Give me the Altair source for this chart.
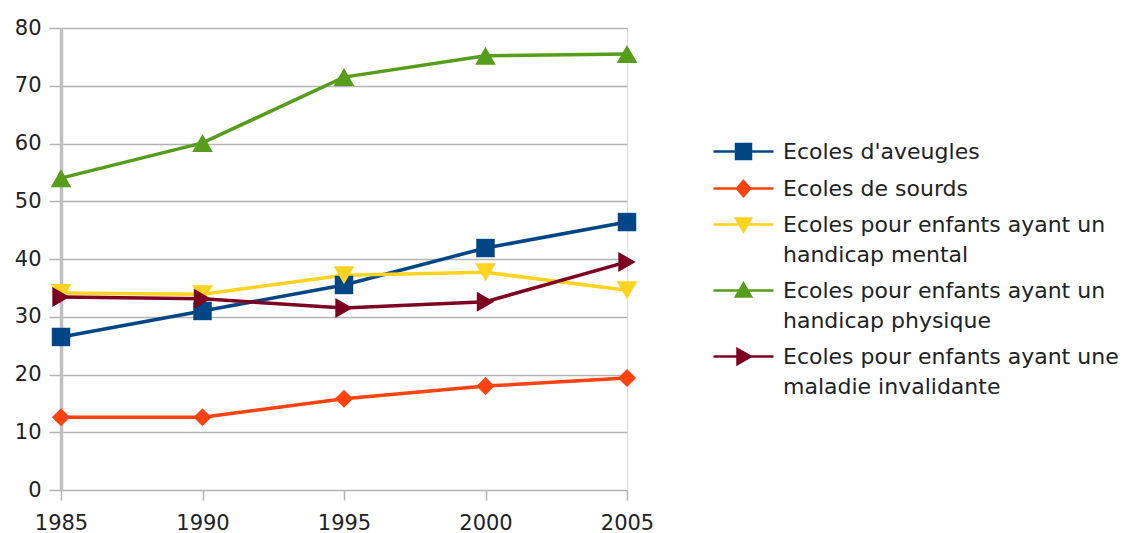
import altair as alt
import pandas as pd

years = [1985, 1990, 1995, 2000, 2005]
series = [
    "Ecoles d'aveugles",
    "Ecoles de sourds",
    "Ecoles pour enfants ayant un\nhandicap mental",
    "Ecoles pour enfants ayant un\nhandicap physique",
    "Ecoles pour enfants ayant une\nmaladie invalidante",
]
aveugles = [26.5, 31.0, 35.5, 41.9, 46.4]
sourds = [12.6, 12.6, 15.8, 18.0, 19.4]
mental = [34.1, 33.9, 37.2, 37.7, 34.6]
physique = [54.0, 60.1, 71.5, 75.2, 75.5]
maladie = [33.4, 33.1, 31.5, 32.6, 39.5]

colors = ["#004586", "#ff420e", "#ffd320", "#579d1c", "#7e0021"]
plot_shapes = ["square", "diamond", "triangle-down", "triangle-up", "triangle-right"]
plot_sizes = [340, 330, 430, 430, 400]
legend_shapes = [
    "M-3,0H3M-0.75,-0.75H0.75V0.75H-0.75Z",
    "M-3,0H3M0,-0.75L0.66,0L0,0.75L-0.66,0Z",
    "M-3,0H3M-0.75,-0.6H0.75L0,0.69Z",
    "M-3,0H3M0,-0.69L0.75,0.6H-0.75Z",
    "M-3,0H3M-0.6,-0.75L0.72,0L-0.6,0.75Z",
]

values = [aveugles, sourds, mental, physique, maladie]
rows = []
for name, vals in zip(series, values):
    for yr, v in zip(years, vals):
        rows.append({"annee": yr, "valeur": v, "serie": name})
df = pd.DataFrame(rows)

FONT = "DejaVu Sans"

x = alt.X(
    "annee:Q",
    scale=alt.Scale(domain=[1985, 2005], nice=False, zero=False),
    axis=alt.Axis(
        values=years, format="d", title=None, grid=False, domain=False,
        tickColor="#b3b3b3", tickWidth=1.5, tickSize=10, labelFlush=False,
        labelFontSize=21, labelFont=FONT, labelColor="#222222", labelPadding=12,
    ),
)
y = alt.Y(
    "valeur:Q",
    scale=alt.Scale(domain=[0, 80], nice=False),
    axis=alt.Axis(
        values=list(range(0, 81, 10)), title=None, grid=True,
        gridColor="#b3b3b3", gridWidth=1.5,
        domainColor="#c0c0c0", domainWidth=3.5,
        tickColor="#b3b3b3", tickWidth=1.5, tickSize=12,
        labelFontSize=21, labelFont=FONT, labelColor="#222222", labelPadding=8,
    ),
)

leg = alt.Legend(
    title=None, orient="none", legendX=671, legendY=112,
    symbolSize=400, symbolStrokeWidth=2.5, symbolOpacity=1,
    labelFontSize=22, labelFont=FONT, labelColor="#222222",
    labelExpr="split(datum.label, '\\n')", labelOffset=28,
    rowPadding=12, padding=0, labelLimit=600,
)

color = alt.Color("serie:N", scale=alt.Scale(domain=series, range=colors), legend=leg)

lines = alt.Chart(df).mark_line(strokeWidth=3.5).encode(x=x, y=y, color=color)

point_layers = []
for name, shp, sz in zip(series, plot_shapes, plot_sizes):
    point_layers.append(
        alt.Chart(df)
        .transform_filter(alt.datum.serie == name)
        .mark_point(filled=True, shape=shp, size=sz, opacity=1)
        .encode(x=x, y=y, color=color)
    )

legend_layer = alt.Chart(df).mark_point(filled=True, opacity=0, size=10).encode(
    x=x, y=y, color=color,
    stroke=alt.Stroke("serie:N", scale=alt.Scale(domain=series, range=colors), legend=leg),
    shape=alt.Shape("serie:N", scale=alt.Scale(domain=series, range=legend_shapes), legend=leg),
)

chart = (
    alt.layer(lines, *point_layers, legend_layer)
    .properties(
        width=566, height=462,
        autosize=alt.AutoSizeParams(type="none"),
        padding={"left": 53, "top": 20, "right": 493, "bottom": 43},
    )
    .configure_view(stroke="#b3b3b3", strokeWidth=1.5)
    .configure(background="white", style={"guide-label": {"lineHeight": 30}})
)

chart.save("out.html", embed_options={"renderer": "svg", "actions": False})
